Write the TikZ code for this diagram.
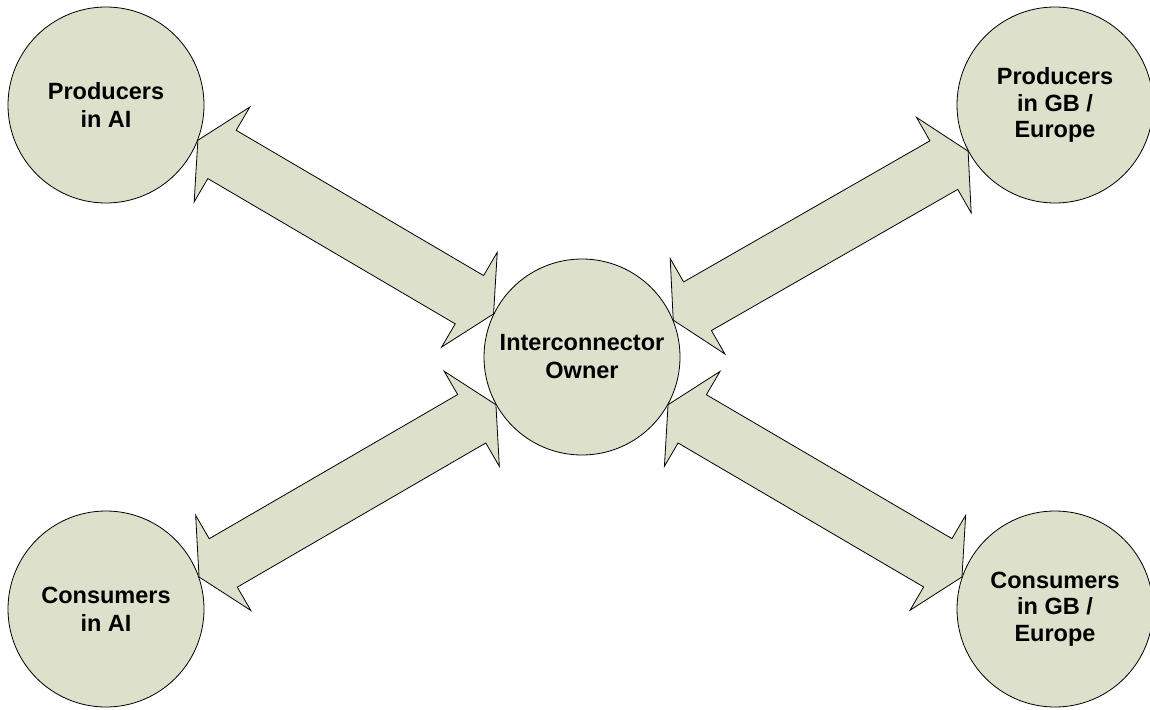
\documentclass[tikz,border=0pt]{standalone}
\usepackage{fontspec}
\setmainfont{Liberation Sans}
\usetikzlibrary{calc}
\definecolor{fillc}{RGB}{221,224,203}
\newcommand{\hl}{28pt}
\newcommand{\hw}{55pt}
\newcommand{\sw}{28pt}
\newcommand{\dblarrow}[2]{%
\draw[arr] (#1)
 -- ($(#1)!\hl!(#2)!\hw!90:(#2)$)
 -- ($(#1)!\hl!(#2)!\sw!90:(#2)$)
 -- ($(#2)!\hl!(#1)!\sw!-90:(#1)$)
 -- ($(#2)!\hl!(#1)!\hw!-90:(#1)$)
 -- (#2)
 -- ($(#2)!\hl!(#1)!\hw!90:(#1)$)
 -- ($(#2)!\hl!(#1)!\sw!90:(#1)$)
 -- ($(#1)!\hl!(#2)!\sw!-90:(#2)$)
 -- ($(#1)!\hl!(#2)!\hw!-90:(#2)$)
 -- cycle;}
\begin{document}
\begin{tikzpicture}[x=1pt,y=-1pt,
  party/.style={circle,draw=black,line width=0.8pt,fill=fillc,minimum size=196pt,inner sep=0pt,align=center,font=\bfseries\fontsize{23.5}{28}\selectfont},
  party3/.style={party,font=\bfseries\fontsize{23.5}{26.5}\selectfont},
  arr/.style={draw=black,line width=0.8pt,fill=fillc,line join=miter}]
\useasboundingbox (0,0) rectangle (1150,709);
\node[party] (pai) at (106,105) {Producers\\in AI};
\node[party] (cai) at (106,609) {Consumers\\in AI};
\node[party3] (pgb) at (1055,105) {Producers\\in GB /\\Europe};
\node[party3] (cgb) at (1055,609) {Consumers\\in GB /\\Europe};
\node[party] (io) at (582,357) {Interconnector\\Owner};
\coordinate (a1) at (pai.-21);
\coordinate (b1) at (io.154);
\coordinate (a2) at (pgb.208);
\coordinate (b2) at (io.22);
\coordinate (a3) at (cai.19);
\coordinate (b3) at (io.209);
\coordinate (a4) at (io.-29);
\coordinate (b4) at (cgb.161);
\dblarrow{a1}{b1}
\dblarrow{a2}{b2}
\dblarrow{a3}{b3}
\dblarrow{a4}{b4}
\end{tikzpicture}
\end{document}
